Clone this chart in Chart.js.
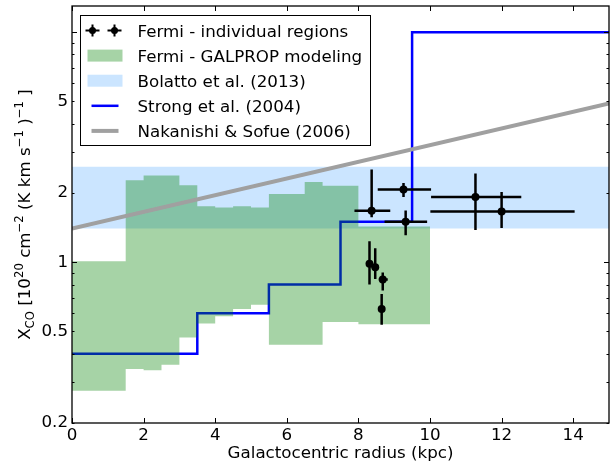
<!DOCTYPE html>
<html>
<head>
<meta charset="utf-8">
<script src="https://cdn.jsdelivr.net/npm/chart.js@4.4.1/dist/chart.umd.min.js"></script>
<style>
  html, body { margin: 0; padding: 0; background: #fff; }
</style>
</head>
<body>
<canvas id="xcoChart" width="613" height="464"></canvas>
<script>
// GALPROP modelling band: a bin starts at each edge, last entry closes the last bin
const galpropEdges = [0, 1.5, 2, 2.5, 3, 3.5, 4, 4.5, 5, 5.5, 6, 6.5, 7, 7.5, 8, 10];
const galpropLow   = [0.276, 0.343, 0.339, 0.358, 0.471, 0.542, 0.582, 0.626, 0.654, 0.438, 0.438, 0.438, 0.55, 0.55, 0.537, 0.537];
const galpropHigh  = [1.01, 2.27, 2.38, 2.38, 2.16, 1.75, 1.73, 1.75, 1.73, 1.98, 1.98, 2.23, 2.15, 2.15, 1.43, 1.43];

// Bolatto et al. (2013) range
const bolattoR = [0, 15];
const bolattoLow = [1.4, 1.4];
const bolattoHigh = [2.6, 2.6];

// Strong et al. (2004) steps
const strongEdges = [0, 3.5, 5.5, 7.5, 9.5, 15];
const strongValues = [0.4, 0.6, 0.8, 1.5, 10, 10];

// Nakanishi & Sofue (2006)
const nakanishiR = [0, 15];
const nakanishiX = [1.4, 4.9];

// Fermi individual regions (null = no horizontal error bar)
const regionR   = [8.37, 9.26, 9.32, 11.27, 12.0, 8.31, 8.47, 8.68, 8.65];
const regionX   = [1.675, 2.07, 1.50, 1.92, 1.66, 0.984, 0.951, 0.841, 0.626];
const regionRLo = [7.89, 8.54, 8.73, 10.03, 10.01, null, null, 8.57, null];
const regionRHi = [8.89, 10.03, 9.92, 12.55, 14.04, null, null, 8.82, null];
const regionXLo = [1.57, 1.92, 1.31, 1.38, 1.41, 0.80, 0.846, 0.753, 0.535];
const regionXHi = [2.53, 2.21, 1.68, 2.43, 2.02, 1.235, 1.15, 0.902, 0.728];

// axes
const xTickValues = [0, 2, 4, 6, 8, 10, 12, 14];
const yTickLabels = [0.2, 0.5, 1, 2, 5];
const yTickMarks = [0.2, 0.3, 0.4, 0.5, 0.6, 0.7, 0.8, 0.9, 1, 2, 3, 4, 5, 6, 7, 8, 9, 10];
const yMajor = [1, 10];

const FONT = 'DejaVu Sans';
const FS = 16.7;
const greenFill = 'rgba(0, 128, 0, 0.35)';
const blueFill = 'rgba(30, 144, 255, 0.23)';

function pairs(xs, ys) {
    return xs.map((x, i) => ({ x: x, y: ys[i] }));
}

// error bars for the Fermi regions, drawn through the chart scales
const errorBars = {
    id: 'errorBars',
    afterDatasetsDraw(chart) {
        const { ctx, scales: { x, y } } = chart;
        ctx.save();
        ctx.strokeStyle = '#000';
        ctx.lineWidth = 2.5;
        ctx.beginPath();
        regionR.forEach((r, i) => {
            const px = x.getPixelForValue(r);
            const py = y.getPixelForValue(regionX[i]);
            ctx.moveTo(px, y.getPixelForValue(regionXLo[i]));
            ctx.lineTo(px, y.getPixelForValue(regionXHi[i]));
            if (regionRLo[i] !== null) {
                ctx.moveTo(x.getPixelForValue(regionRLo[i]), py);
                ctx.lineTo(x.getPixelForValue(regionRHi[i]), py);
            }
        });
        ctx.stroke();
        ctx.restore();
    }
};

// inward ticks on all four sides and the frame
const frameTicks = {
    id: 'frameTicks',
    afterDatasetsDraw(chart) {
        const { ctx, chartArea: a, scales: { x, y } } = chart;
        ctx.save();
        ctx.strokeStyle = '#000';
        ctx.lineWidth = 1;
        ctx.beginPath();
        xTickValues.forEach(v => {
            const px = Math.round(x.getPixelForValue(v)) + 0.5;
            ctx.moveTo(px, a.bottom); ctx.lineTo(px, a.bottom - 5);
            ctx.moveTo(px, a.top); ctx.lineTo(px, a.top + 5);
        });
        yTickMarks.forEach(v => {
            const py = Math.round(y.getPixelForValue(v)) + 0.5;
            const len = yMajor.includes(v) ? 5 : 2.5;
            ctx.moveTo(a.left, py); ctx.lineTo(a.left + len, py);
            ctx.moveTo(a.right, py); ctx.lineTo(a.right - len, py);
        });
        ctx.stroke();
        ctx.lineWidth = 1.3;
        ctx.strokeRect(a.left, a.top, a.right - a.left, a.bottom - a.top);
        ctx.restore();
    }
};

// y title with sub/superscripts
const yTitle = {
    id: 'yTitle',
    afterDraw(chart) {
        const { ctx, chartArea: a } = chart;
        const small = FS * 0.7;
        const parts = [
            ['X', FS, 0], ['CO', small, 3.5], [' [10', FS, 0], ['20', small, -7],
            [' cm', FS, 0], ['\u22122', small, -7], [' (K km s', FS, 0], ['\u22121', small, -7],
            [' )', FS, 0], ['\u22121', small, -7], [' ]', FS, 0]
        ];
        ctx.save();
        let total = 0;
        parts.forEach(p => { ctx.font = p[1] + 'px "' + FONT + '"'; total += ctx.measureText(p[0]).width; });
        ctx.translate(30, (a.top + a.bottom) / 2);
        ctx.rotate(-Math.PI / 2);
        ctx.fillStyle = '#000';
        ctx.textBaseline = 'alphabetic';
        let cx = -total / 2;
        parts.forEach(p => {
            ctx.font = p[1] + 'px "' + FONT + '"';
            ctx.fillText(p[0], cx, p[2]);
            cx += ctx.measureText(p[0]).width;
        });
        ctx.restore();
    }
};

// matplotlib style legend box in the upper left
const boxLegend = {
    id: 'boxLegend',
    afterDraw(chart) {
        const { ctx, chartArea: a } = chart;
        const bx = a.left + 8.5, by = a.top + 9.5, bw = 290, bh = 130;
        ctx.save();
        ctx.fillStyle = '#fff';
        ctx.fillRect(bx, by, bw, bh);
        ctx.strokeStyle = '#000';
        ctx.lineWidth = 1;
        ctx.strokeRect(bx, by, bw, bh);
        const labels = ['Fermi - individual regions', 'Fermi - GALPROP modeling', 'Bolatto et al. (2013)',
                        'Strong et al. (2004)', 'Nakanishi & Sofue (2006)'];
        const sx = bx + 7, tx = bx + 57;
        labels.forEach((lab, i) => {
            const cy = by + 15 + i * 25.1;
            if (i === 0) {
                ctx.strokeStyle = '#000';
                ctx.lineWidth = 2;
                [sx + 5, sx + 27].forEach(mx => {
                    ctx.beginPath();
                    ctx.moveTo(mx - 7, cy); ctx.lineTo(mx + 7, cy);
                    ctx.moveTo(mx, cy - 6); ctx.lineTo(mx, cy + 6);
                    ctx.stroke();
                    ctx.beginPath();
                    ctx.fillStyle = '#000';
                    ctx.arc(mx, cy, 3.5, 0, Math.PI * 2);
                    ctx.fill();
                });
            } else if (i === 1 || i === 2) {
                ctx.fillStyle = i === 1 ? greenFill : blueFill;
                ctx.fillRect(sx, cy - 6, 35, 12);
            } else {
                ctx.strokeStyle = i === 3 ? '#0000ff' : '#a0a0a0';
                ctx.lineWidth = i === 3 ? 2.5 : 4;
                ctx.beginPath();
                ctx.moveTo(sx + 4, cy); ctx.lineTo(sx + 31, cy);
                ctx.stroke();
            }
            ctx.fillStyle = '#000';
            ctx.font = FS + 'px "' + FONT + '"';
            ctx.textBaseline = 'alphabetic';
            ctx.fillText(lab, tx, cy + 6);
        });
        ctx.restore();
    }
};

function renderXcoChart() {
    const ctx = document.getElementById('xcoChart').getContext('2d');
    Chart.defaults.font.family = FONT;
    Chart.defaults.font.size = FS;
    Chart.defaults.color = '#000';

    new Chart(ctx, {
        type: 'line',
        data: {
            datasets: [
                {
                    label: 'Fermi - individual regions',
                    type: 'scatter',
                    data: pairs(regionR, regionX),
                    pointRadius: 4,
                    pointBackgroundColor: '#000',
                    pointBorderWidth: 0,
                    showLine: false,
                    order: 0
                },
                {
                    label: 'Nakanishi & Sofue (2006)',
                    data: pairs(nakanishiR, nakanishiX),
                    borderColor: '#a0a0a0',
                    borderWidth: 4,
                    pointRadius: 0,
                    fill: false,
                    order: 1
                },
                {
                    label: 'GALPROP low',
                    data: pairs(galpropEdges, galpropLow),
                    stepped: true,
                    borderColor: 'rgba(0,0,0,0)',
                    borderWidth: 0,
                    pointRadius: 0,
                    fill: false,
                    order: 2
                },
                {
                    label: 'Fermi - GALPROP modeling',
                    data: pairs(galpropEdges, galpropHigh),
                    stepped: true,
                    borderColor: 'rgba(0,0,0,0)',
                    borderWidth: 0,
                    backgroundColor: greenFill,
                    pointRadius: 0,
                    fill: '-1',
                    order: 2
                },
                {
                    label: 'Strong et al. (2004)',
                    data: pairs(strongEdges, strongValues),
                    stepped: true,
                    borderColor: '#0000ff',
                    borderWidth: 2.5,
                    pointRadius: 0,
                    fill: false,
                    order: 3
                },
                {
                    label: 'Bolatto low',
                    data: pairs(bolattoR, bolattoLow),
                    borderColor: 'rgba(0,0,0,0)',
                    borderWidth: 0,
                    pointRadius: 0,
                    fill: false,
                    order: 4
                },
                {
                    label: 'Bolatto et al. (2013)',
                    data: pairs(bolattoR, bolattoHigh),
                    borderColor: 'rgba(0,0,0,0)',
                    borderWidth: 0,
                    backgroundColor: blueFill,
                    pointRadius: 0,
                    fill: '-1',
                    order: 4
                }
            ]
        },
        options: {
            responsive: false,
            animation: false,
            events: [],
            layout: { padding: { left: 0, right: 3, top: 6, bottom: 0 } },
            plugins: {
                legend: { display: false },
                tooltip: { enabled: false }
            },
            scales: {
                x: {
                    type: 'linear',
                    min: 0,
                    max: 15,
                    grid: { display: false, drawTicks: false },
                    border: { display: false },
                    afterBuildTicks: s => { s.ticks = xTickValues.map(v => ({ value: v })); },
                    afterFit: s => { s.height = 41; s.paddingLeft = 0; s.paddingRight = 0; },
                    ticks: { padding: 3, maxRotation: 0, font: { size: FS } },
                    title: {
                        display: true,
                        text: 'Galactocentric radius (kpc)',
                        font: { size: FS },
                        padding: { top: 0, bottom: 0 }
                    }
                },
                y: {
                    type: 'logarithmic',
                    min: 0.2,
                    max: 13,
                    grid: { display: false, drawTicks: false },
                    border: { display: false },
                    afterBuildTicks: s => { s.ticks = yTickLabels.map(v => ({ value: v })); },
                    afterFit: s => { s.width = 72; s.paddingTop = 0; s.paddingBottom = 0; },
                    ticks: {
                        padding: 4,
                        font: { size: FS },
                        callback: v => String(v)
                    }
                }
            }
        },
        plugins: [errorBars, frameTicks, yTitle, boxLegend]
    });
}

window.onload = renderXcoChart;
</script>
</body>
</html>
